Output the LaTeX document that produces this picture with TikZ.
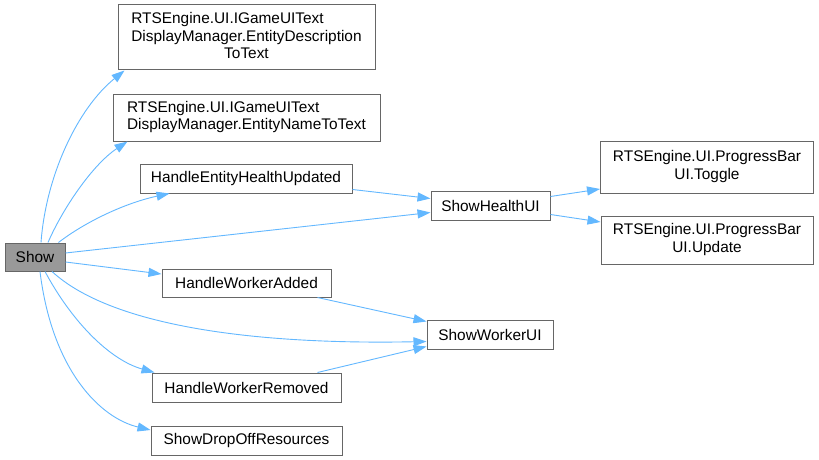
\documentclass[tikz,border=0pt]{standalone}
\usepackage{fontspec}
\setmainfont{Liberation Sans}
\usetikzlibrary{arrows.meta}
\definecolor{edgeblue}{HTML}{63B8FF}
\definecolor{boxgray}{HTML}{666666}
\definecolor{showfill}{HTML}{999999}
\newcommand{\lastc}[1]{\multicolumn{1}{@{}c@{}}{#1}}
\begin{document}
\begin{tikzpicture}[x=1pt,y=-1pt,
  box/.style={draw=boxgray, line width=1pt, fill=white, align=center, inner sep=0pt,
    font=\fontsize{15.4}{17.8}\selectfont},
  edge/.style={draw=edgeblue, line width=0.9pt, -{Triangle[length=13pt,width=9pt]}}]
\useasboundingbox (0,0) rectangle (819,460);
\fill[white] (0,0) rectangle (819,460);
\node[box, fill=showfill, minimum width=60pt, minimum height=28pt] (show) at (35,257) {Show};
\node[box, minimum width=257pt, minimum height=65pt] (desc) at (246.5,37.5) {\raisebox{-2pt}{\begin{tabular}{@{}l@{}}RTSEngine.UI.IGameUIText\\DisplayManager.EntityDescription\\\lastc{ToText}\end{tabular}}};
\node[box, minimum width=267pt, minimum height=47pt] (name) at (246.5,117.5) {\raisebox{-1pt}{\begin{tabular}{@{}l@{}}RTSEngine.UI.IGameUIText\\DisplayManager.EntityNameToText\end{tabular}}};
\node[box, minimum width=212pt, minimum height=29pt] (heu) at (246,178.5) {HandleEntityHealthUpdated};
\node[box, minimum width=169pt, minimum height=28pt] (hwa) at (246.5,283) {HandleWorkerAdded};
\node[box, minimum width=189pt, minimum height=29pt] (hwr) at (246.5,387.5) {HandleWorkerRemoved};
\node[box, minimum width=191pt, minimum height=29pt] (sdor) at (246.5,440.5) {ShowDropOffResources};
\node[box, minimum width=119pt, minimum height=29pt] (shu) at (490.5,205.5) {ShowHealthUI};
\node[box, minimum width=126pt, minimum height=29pt] (swu) at (490,334.5) {ShowWorkerUI};
\node[box, minimum width=213pt, minimum height=52pt] (tog) at (707,167) {\raisebox{-1pt}{\begin{tabular}{@{}l@{}}RTSEngine.UI.ProgressBar\\\lastc{UI.Toggle}\end{tabular}}};
\node[box, minimum width=212pt, minimum height=48pt] (upd) at (707,240) {\raisebox{-1pt}{\begin{tabular}{@{}l@{}}RTSEngine.UI.ProgressBar\\\lastc{UI.Update}\end{tabular}}};

\draw[edge] ([xshift=6pt]show.north) .. controls (46,175) and (78,108) .. ([xshift=7pt]desc.south west);
\draw[edge] ([xshift=13pt]show.north) .. controls (62,210) and (92,165) .. ([xshift=15pt]name.south west);
\draw[edge] ([xshift=-7pt]show.north east) .. controls (85,222) and (125,203) .. ([xshift=30pt]heu.south west);
\draw[edge] ([yshift=4pt]show.east) -- ([yshift=-7pt]shu.west);
\draw[edge] ([yshift=-5pt]show.east) -- ([yshift=9pt]hwa.west);
\draw[edge] ([xshift=17pt]show.south) .. controls (110,325) and (250,345) .. ([yshift=-7pt]swu.west);
\draw[edge] ([xshift=10pt]show.south) .. controls (72,322) and (110,360) .. ([xshift=3pt]hwr.north west);
\draw[edge] ([xshift=5pt]show.south) .. controls (52,370) and (100,418) .. ([yshift=10.5pt]sdor.west);
\draw[edge] ([yshift=-11pt]heu.east) -- ([yshift=7pt]shu.west);
\draw[edge] ([xshift=-14pt]hwa.south east) -- ([yshift=-2pt]swu.north west);
\draw[edge] ([xshift=-24pt]hwr.north east) -- ([yshift=-12pt]swu.west);
\draw[edge] ([yshift=9pt]shu.east) -- ([yshift=-22pt]tog.west);
\draw[edge] ([yshift=-9pt]shu.east) -- ([yshift=18pt]upd.west);
\end{tikzpicture}
\end{document}
